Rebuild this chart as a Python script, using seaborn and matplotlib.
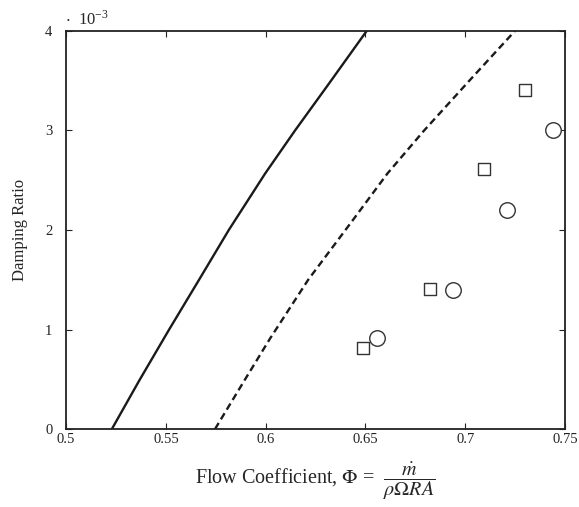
import matplotlib
matplotlib.use("Agg")
import matplotlib.pyplot as plt
import seaborn as sns
import pandas as pd

# Predicted damping ratio curves (x 10^-3) vs flow coefficient
solid_phi = [0.5229, 0.5367, 0.5516, 0.5666, 0.5815, 0.5998, 0.6147, 0.6313, 0.6506]
solid_zeta = [0.0, 0.49, 1.0, 1.5, 2.0, 2.57, 3.0, 3.46, 4.0]

dashed_phi = [0.5746, 0.5897, 0.6022, 0.6213, 0.6437, 0.6611, 0.6794, 0.7025, 0.7249]
dashed_zeta = [0.0, 0.5, 0.91, 1.5, 2.1, 2.57, 3.0, 3.51, 4.0]

# Measured points
square_phi = [0.649, 0.6825, 0.7095, 0.7298]
square_zeta = [0.81, 1.41, 2.61, 3.41]
circle_phi = [0.656, 0.694, 0.7207, 0.744]
circle_zeta = [0.91, 1.40, 2.20, 3.00]

x_ticks = [0.5, 0.55, 0.6, 0.65, 0.7, 0.75]
x_labels = ["0.5", "0.55", "0.6", "0.65", "0.7", "0.75"]
y_ticks = [0, 1, 2, 3, 4]
y_labels = ["0", "1", "2", "3", "4"]

sns.set_style("ticks")
plt.rcParams["font.family"] = ["Liberation Serif", "DejaVu Serif"]
plt.rcParams["mathtext.fontset"] = "stix"

fig = plt.figure(figsize=(5.79, 5.07), dpi=100)
ax = fig.add_axes([0.1143, 0.1538, 0.8615, 0.7851])

solid_df = pd.DataFrame({"phi": solid_phi, "zeta": solid_zeta})
dashed_df = pd.DataFrame({"phi": dashed_phi, "zeta": dashed_zeta})
sns.lineplot(data=solid_df, x="phi", y="zeta", sort=False, ax=ax,
             color="#1a1a1a", linewidth=1.7)
sns.lineplot(data=dashed_df, x="phi", y="zeta", sort=False, ax=ax,
             color="#1a1a1a", linewidth=1.7, linestyle=(0, (3.0, 1.8)))

sq_df = pd.DataFrame({"phi": square_phi, "zeta": square_zeta})
ci_df = pd.DataFrame({"phi": circle_phi, "zeta": circle_zeta})
sns.scatterplot(data=sq_df, x="phi", y="zeta", ax=ax, marker="s", s=85,
                facecolor="white", edgecolor="#333333", linewidth=1.0, zorder=3)
sns.scatterplot(data=ci_df, x="phi", y="zeta", ax=ax, marker="o", s=125,
                facecolor="white", edgecolor="#333333", linewidth=1.0, zorder=3)

ax.set_xlim(0.5, 0.75)
ax.set_ylim(0, 4)
ax.set_xticks(x_ticks)
ax.set_xticklabels(x_labels)
ax.set_yticks(y_ticks)
ax.set_yticklabels(y_labels)
ax.tick_params(direction="in", length=4, width=0.8, top=True, right=True,
               labelsize=10.5, colors="#222222")
ax.tick_params(axis="x", pad=3)
ax.tick_params(axis="y", pad=10)
for sp in ax.spines.values():
    sp.set_visible(True)
    sp.set_linewidth(1.3)
    sp.set_color("#222222")

ax.set_ylabel("Damping Ratio", fontsize=12, labelpad=12)
ax.set_xlabel(r"Flow Coefficient, $\Phi$ =  $\dfrac{\dot{m}}{\rho\Omega RA}$",
              fontsize=14.5, labelpad=10)

fig.text(0.113, 0.951, r"$\cdot$  10$^{\mathdefault{-3}}$", fontsize=12,
         ha="left", va="baseline")

fig.savefig("out.png", dpi=100, facecolor="white")
